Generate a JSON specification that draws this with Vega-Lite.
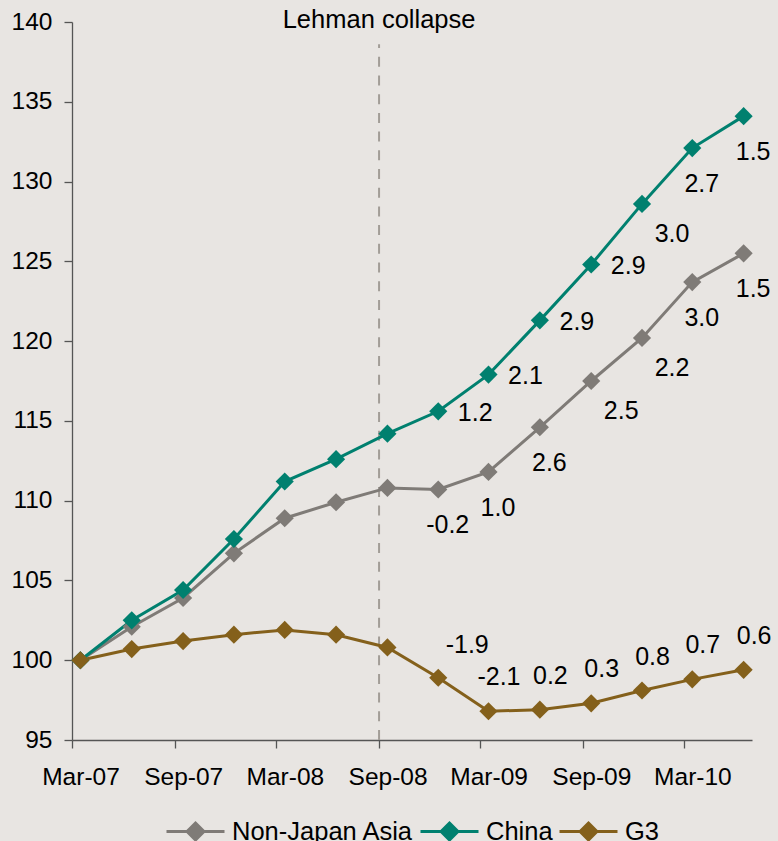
{
  "$schema": "https://vega.github.io/schema/vega-lite/v6.json",
  "width": 680,
  "height": 718,
  "autosize": "none",
  "padding": {"left": 72, "top": 22, "right": 26, "bottom": 101},
  "background": "#e8e5e2",
  "config": {
    "view": {"stroke": null},
    "locale": {"number": {"decimal": ".", "thousands": ",", "grouping": [3], "currency": ["$", ""], "minus": "-"}},
    "text": {"font": "Liberation Sans", "color": "#000000"}
  },
  "datasets": {
    "growth": [
      {"series": "Non-Japan Asia", "date": "2007-03-16", "value": 100.0, "qoq": null},
      {"series": "Non-Japan Asia", "date": "2007-06-16", "value": 102.1, "qoq": null},
      {"series": "Non-Japan Asia", "date": "2007-09-16", "value": 103.9, "qoq": null},
      {"series": "Non-Japan Asia", "date": "2007-12-16", "value": 106.7, "qoq": null},
      {"series": "Non-Japan Asia", "date": "2008-03-16", "value": 108.9, "qoq": null},
      {"series": "Non-Japan Asia", "date": "2008-06-16", "value": 109.9, "qoq": null},
      {"series": "Non-Japan Asia", "date": "2008-09-16", "value": 110.8, "qoq": null},
      {"series": "Non-Japan Asia", "date": "2008-12-16", "value": 110.7, "qoq": -0.2},
      {"series": "Non-Japan Asia", "date": "2009-03-16", "value": 111.8, "qoq": 1.0},
      {"series": "Non-Japan Asia", "date": "2009-06-16", "value": 114.6, "qoq": 2.6},
      {"series": "Non-Japan Asia", "date": "2009-09-16", "value": 117.5, "qoq": 2.5},
      {"series": "Non-Japan Asia", "date": "2009-12-16", "value": 120.2, "qoq": 2.2},
      {"series": "Non-Japan Asia", "date": "2010-03-16", "value": 123.7, "qoq": 3.0},
      {"series": "Non-Japan Asia", "date": "2010-06-16", "value": 125.5, "qoq": 1.5},
      {"series": "China", "date": "2007-03-16", "value": 100.0, "qoq": null},
      {"series": "China", "date": "2007-06-16", "value": 102.5, "qoq": null},
      {"series": "China", "date": "2007-09-16", "value": 104.4, "qoq": null},
      {"series": "China", "date": "2007-12-16", "value": 107.6, "qoq": null},
      {"series": "China", "date": "2008-03-16", "value": 111.2, "qoq": null},
      {"series": "China", "date": "2008-06-16", "value": 112.6, "qoq": null},
      {"series": "China", "date": "2008-09-16", "value": 114.2, "qoq": null},
      {"series": "China", "date": "2008-12-16", "value": 115.6, "qoq": 1.2},
      {"series": "China", "date": "2009-03-16", "value": 117.9, "qoq": 2.1},
      {"series": "China", "date": "2009-06-16", "value": 121.3, "qoq": 2.9},
      {"series": "China", "date": "2009-09-16", "value": 124.8, "qoq": 2.9},
      {"series": "China", "date": "2009-12-16", "value": 128.6, "qoq": 3.0},
      {"series": "China", "date": "2010-03-16", "value": 132.1, "qoq": 2.7},
      {"series": "China", "date": "2010-06-16", "value": 134.1, "qoq": 1.5},
      {"series": "G3", "date": "2007-03-16", "value": 100.0, "qoq": null},
      {"series": "G3", "date": "2007-06-16", "value": 100.7, "qoq": null},
      {"series": "G3", "date": "2007-09-16", "value": 101.2, "qoq": null},
      {"series": "G3", "date": "2007-12-16", "value": 101.6, "qoq": null},
      {"series": "G3", "date": "2008-03-16", "value": 101.9, "qoq": null},
      {"series": "G3", "date": "2008-06-16", "value": 101.6, "qoq": null},
      {"series": "G3", "date": "2008-09-16", "value": 100.8, "qoq": null},
      {"series": "G3", "date": "2008-12-16", "value": 98.9, "qoq": -1.9},
      {"series": "G3", "date": "2009-03-16", "value": 96.8, "qoq": -2.1},
      {"series": "G3", "date": "2009-06-16", "value": 96.9, "qoq": 0.2},
      {"series": "G3", "date": "2009-09-16", "value": 97.3, "qoq": 0.3},
      {"series": "G3", "date": "2009-12-16", "value": 98.1, "qoq": 0.8},
      {"series": "G3", "date": "2010-03-16", "value": 98.8, "qoq": 0.7},
      {"series": "G3", "date": "2010-06-16", "value": 99.4, "qoq": 0.6}
    ],
    "events": [
      {"date": "2008-09-01", "event": "Lehman collapse"}
    ]
  },
  "encoding": {
    "x": {
      "field": "date",
      "type": "temporal",
      "scale": {
        "type": "utc",
        "domain": [
          {"year": 2007, "month": 3, "date": 1, "utc": true},
          {"year": 2010, "month": 7, "date": 1, "utc": true}
        ]
      },
      "axis": {
        "title": null,
        "grid": false,
        "values": [
          {"year": 2007, "month": 3, "date": 1, "utc": true},
          {"year": 2007, "month": 9, "date": 1, "utc": true},
          {"year": 2008, "month": 3, "date": 1, "utc": true},
          {"year": 2008, "month": 9, "date": 1, "utc": true},
          {"year": 2009, "month": 3, "date": 1, "utc": true},
          {"year": 2009, "month": 9, "date": 1, "utc": true},
          {"year": 2010, "month": 3, "date": 1, "utc": true}
        ],
        "labelExpr": "utcFormat(datum.value, '%b-%y')",
        "labelOffset": 8.5,
        "labelFlush": false,
        "labelOverlap": false,
        "tickSize": 8,
        "tickWidth": 1.3,
        "tickColor": "#555555",
        "domainColor": "#555555",
        "domainWidth": 1.3,
        "labelPadding": 17,
        "labelFont": "Liberation Sans",
        "labelFontSize": 24.5,
        "labelColor": "#000000"
      }
    }
  },
  "layer": [
    {
      "data": {"name": "events"},
      "mark": {"type": "rule", "strokeDash": [10, 8.7], "strokeWidth": 2, "color": "#a29d97"},
      "encoding": {
        "y": {"datum": 95},
        "y2": {"datum": 138.6}
      }
    },
    {
      "data": {"name": "events"},
      "mark": {"type": "text", "fontSize": 25.5, "baseline": "alphabetic", "align": "center", "dy": 6},
      "encoding": {
        "y": {"datum": 140},
        "text": {"field": "event"}
      }
    },
    {
      "data": {"name": "growth"},
      "mark": {
        "type": "line",
        "strokeWidth": 3,
        "point": {"shape": "diamond", "size": 330, "filled": true, "opacity": 1}
      },
      "encoding": {
        "y": {
          "field": "value",
          "type": "quantitative",
          "scale": {"domain": [95, 140], "nice": false, "zero": false},
          "axis": {
            "title": null,
            "grid": false,
            "values": [95, 100, 105, 110, 115, 120, 125, 130, 135, 140],
            "tickSize": 8,
            "tickWidth": 1.3,
            "tickColor": "#555555",
            "domainColor": "#555555",
            "domainWidth": 1.3,
            "labelPadding": 12,
            "labelFont": "Liberation Sans",
            "labelFontSize": 24.5,
            "labelColor": "#000000"
          }
        },
        "color": {
          "field": "series",
          "type": "nominal",
          "scale": {
            "domain": ["Non-Japan Asia", "China", "G3"],
            "range": ["#7f7b77", "#00806f", "#84601b"]
          },
          "legend": {
            "title": null,
            "orient": "none",
            "legendX": 93,
            "legendY": 779,
            "direction": "horizontal",
            "symbolType": "M-1,0H1M0,-0.29L0.29,0L0,0.29L-0.29,0Z",
            "symbolSize": 3364,
            "symbolStrokeWidth": 3,
            "labelFont": "Liberation Sans",
            "labelFontSize": 25.5,
            "labelColor": "#000000",
            "labelLimit": 400,
            "labelOffset": 6,
            "columnPadding": 0,
            "encode": {
              "symbols": {
                "update": {
                  "fill": {"scale": "color", "field": "value"},
                  "stroke": {"scale": "color", "field": "value"},
                  "fillOpacity": {"value": 1},
                  "strokeWidth": {"value": 3}
                }
              }
            }
          }
        }
      }
    },
    {
      "data": {"name": "growth"},
      "transform": [
        {"filter": "datum.qoq != null && datum.series === 'China' && toDate(datum.date) < toDate('2009-11-01')"}
      ],
      "mark": {"type": "text", "fontSize": 25, "align": "center", "baseline": "middle", "dx": 37, "dy": 1.5},
      "encoding": {
        "y": {"field": "value", "type": "quantitative"},
        "text": {"field": "qoq", "type": "quantitative", "format": ".1f"}
      }
    },
    {
      "data": {"name": "growth"},
      "transform": [
        {"filter": "(datum.series === 'China' && toDate(datum.date) > toDate('2009-11-01') && toDate(datum.date) < toDate('2010-01-01')) || (datum.series === 'Non-Japan Asia' && toDate(datum.date) > toDate('2009-08-01') && toDate(datum.date) < toDate('2010-01-01'))"}
      ],
      "mark": {"type": "text", "fontSize": 25, "align": "center", "baseline": "middle", "dx": 30, "dy": 30},
      "encoding": {
        "y": {"field": "value", "type": "quantitative"},
        "text": {"field": "qoq", "type": "quantitative", "format": ".1f"}
      }
    },
    {
      "data": {"name": "growth"},
      "transform": [
        {"filter": "datum.qoq != null && ((datum.series === 'China' && toDate(datum.date) > toDate('2010-01-01')) || (datum.series === 'Non-Japan Asia' && (toDate(datum.date) < toDate('2009-08-01') || toDate(datum.date) > toDate('2010-01-01'))))"}
      ],
      "mark": {"type": "text", "fontSize": 25, "align": "center", "baseline": "middle", "dx": 9.5, "dy": 36},
      "encoding": {
        "y": {"field": "value", "type": "quantitative"},
        "text": {"field": "qoq", "type": "quantitative", "format": ".1f"}
      }
    },
    {
      "data": {"name": "growth"},
      "transform": [
        {"filter": "datum.qoq != null && datum.series === 'G3' && toDate(datum.date) > toDate('2009-01-01')"}
      ],
      "mark": {"type": "text", "fontSize": 25, "align": "center", "baseline": "middle", "dx": 10.5, "dy": -34},
      "encoding": {
        "y": {"field": "value", "type": "quantitative"},
        "text": {"field": "qoq", "type": "quantitative", "format": ".1f"}
      }
    },
    {
      "data": {"name": "growth"},
      "transform": [
        {"filter": "datum.qoq != null && datum.series === 'G3' && toDate(datum.date) < toDate('2009-01-01')"}
      ],
      "mark": {"type": "text", "fontSize": 25, "align": "center", "baseline": "middle", "dx": 29, "dy": -32.5},
      "encoding": {
        "y": {"field": "value", "type": "quantitative"},
        "text": {"field": "qoq", "type": "quantitative", "format": ".1f"}
      }
    }
  ]
}
